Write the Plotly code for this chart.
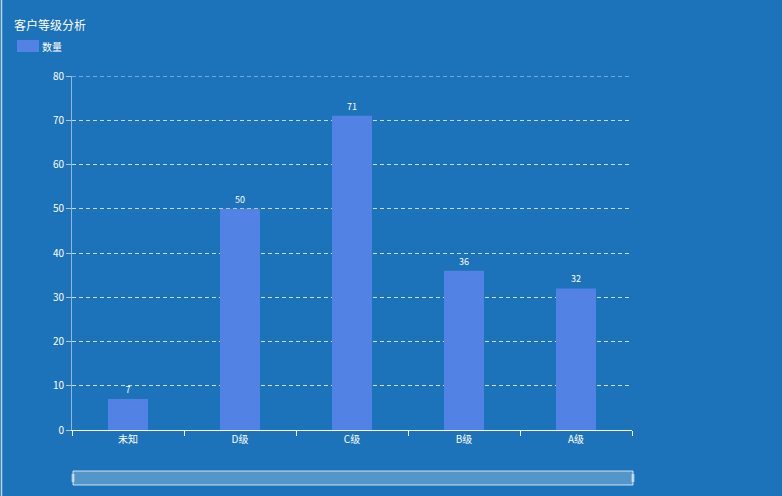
import plotly.graph_objects as go

categories = ["未知", "D级", "C级", "B级", "A级"]
values = [7, 50, 71, 36, 32]
y_ticks = [0, 10, 20, 30, 40, 50, 60, 70, 80]
title_text = "客户等级分析"
series_name = "数量"

W, H = 782, 496
L, R, T, B = 72, 150, 76, 66
pw = W - L - R
ph = H - T - B

def px_x(x):
    return (x - L) / pw

def px_y(y):
    return (H - B - y) / ph

FONT = "Noto Sans CJK SC, Microsoft YaHei, sans-serif"
BG = "#1c73b9"
BAR = "#5182e4"
GRID = "rgba(255,255,255,0.75)"
DASH = "4px,3px"

fig = go.Figure()
fig.add_trace(go.Bar(
    x=categories, y=values, name=series_name,
    marker=dict(color=BAR, line=dict(width=0)),
    width=0.357,
    text=values, textposition="outside",
    textfont=dict(color="white", size=9, family=FONT),
    cliponaxis=False,
    showlegend=False,
))

fig.update_layout(
    width=W, height=H,
    margin=dict(l=L, r=R, t=T, b=B),
    paper_bgcolor=BG, plot_bgcolor=BG,
    font=dict(family=FONT, color="white", size=10),
    xaxis=dict(
        showline=True, linecolor="white", linewidth=1,
        ticks="outside", tickcolor="white", ticklen=5, tickson="boundaries",
        showgrid=False, tickfont=dict(size=10, color="white"),
    ),
    yaxis=dict(
        range=[0, 80], tickvals=y_ticks,
        showline=True, linecolor="rgba(255,255,255,0.5)", linewidth=1,
        ticks="outside", tickcolor="rgba(255,255,255,0.6)", ticklen=5,
        showgrid=True, gridcolor=GRID, griddash=DASH, gridwidth=1,
        zeroline=False, tickfont=dict(size=10, color="white"),
    ),
    annotations=[
        dict(text=title_text, x=px_x(12), y=px_y(24), xref="paper", yref="paper",
             xanchor="left", yanchor="middle", showarrow=False,
             font=dict(size=12, color="white", family=FONT)),
        dict(text=series_name, x=px_x(40), y=px_y(46), xref="paper", yref="paper",
             xanchor="left", yanchor="middle", showarrow=False,
             font=dict(size=10, color="white", family=FONT)),
    ],
    shapes=[
        dict(type="line", xref="paper", yref="y",
             x0=0, x1=1, y0=y_ticks[-1], y1=y_ticks[-1],
             line=dict(color=GRID, width=1, dash=DASH)),
        dict(type="path", xref="paper", yref="paper",
             path="M {a},{b} L {c},{b} L {c},{d} L {a},{d} Z".format(
                 a=px_x(18), b=px_y(41), c=px_x(38), d=px_y(51)),
             fillcolor=BAR, line=dict(color=BAR, width=2)),
        dict(type="line", xref="paper", yref="paper",
             x0=px_x(1.5), x1=px_x(1.5), y0=px_y(0), y1=px_y(496),
             line=dict(color="rgba(255,255,255,0.7)", width=1.5)),
        dict(type="rect", xref="paper", yref="paper",
             x0=px_x(73), x1=px_x(633), y0=px_y(471), y1=px_y(485),
             fillcolor="rgba(255,255,255,0.25)",
             line=dict(color="rgba(255,255,255,0.75)", width=1)),
        dict(type="rect", xref="paper", yref="paper",
             x0=px_x(71.5), x1=px_x(74.5), y0=px_y(474), y1=px_y(482),
             fillcolor="rgba(255,255,255,0.5)", line=dict(width=0)),
        dict(type="rect", xref="paper", yref="paper",
             x0=px_x(631.5), x1=px_x(634.5), y0=px_y(474), y1=px_y(482),
             fillcolor="rgba(255,255,255,0.5)", line=dict(width=0)),
    ],
)

fig.write_html(
    "out.html",
    config={"displayModeBar": False},
    post_script="document.body.style.margin='0';document.body.style.padding='0';document.body.style.background='%s';" % BG,
)
